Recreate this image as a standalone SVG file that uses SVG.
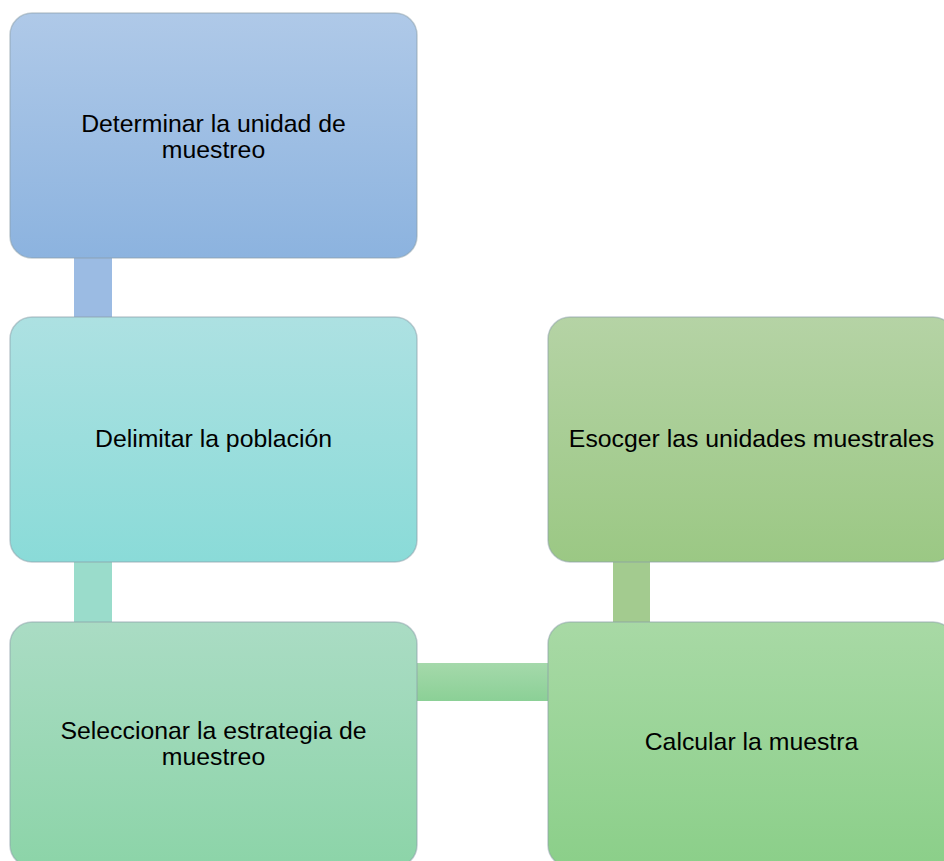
<svg xmlns="http://www.w3.org/2000/svg" width="944" height="861" viewBox="0 0 944 861">
<defs>
<linearGradient id="g1" x1="0" y1="0" x2="0" y2="1"><stop offset="0" stop-color="#afc9e8"/><stop offset="1" stop-color="#8cb3df"/></linearGradient>
<linearGradient id="g2" x1="0" y1="0" x2="0" y2="1"><stop offset="0" stop-color="#ade1e2"/><stop offset="1" stop-color="#8adbd8"/></linearGradient>
<linearGradient id="g3" x1="0" y1="0" x2="0" y2="1"><stop offset="0" stop-color="#aadcc4"/><stop offset="1" stop-color="#8cd4a8"/></linearGradient>
<linearGradient id="g4" x1="0" y1="0" x2="0" y2="1"><stop offset="0" stop-color="#b5d3a5"/><stop offset="1" stop-color="#9bc884"/></linearGradient>
<linearGradient id="g5" x1="0" y1="0" x2="0" y2="1"><stop offset="0" stop-color="#a8d9a5"/><stop offset="1" stop-color="#8bcf89"/></linearGradient>
<linearGradient id="gc4" x1="0" y1="0" x2="0" y2="1"><stop offset="0" stop-color="#a5d9ab"/><stop offset="1" stop-color="#8bd096"/></linearGradient>
</defs>
<style>
.box{stroke:#8a9ea8;stroke-opacity:0.5;stroke-width:1.5}
.t{font-family:"Liberation Sans",Arial,sans-serif;font-size:24.8px;fill:#000;text-anchor:middle}
</style>
<g id="connectors">
<rect x="74" y="256" width="38" height="63" fill="#9bbbe3"/>
<rect x="74" y="560" width="38" height="64" fill="#9adccb"/>
<rect x="613" y="560" width="37" height="64" fill="#a3cb8f"/>
<rect x="414" y="663" width="136" height="38" fill="url(#gc4)"/>
</g>
<g id="n1">
<rect class="box" x="10" y="13" width="407" height="245" rx="22" fill="url(#g1)"/>
<text class="t" x="213.5" y="132">Determinar la unidad de</text>
<text class="t" x="213.5" y="158">muestreo</text>
</g>
<g id="n2">
<rect class="box" x="10" y="317" width="407" height="245" rx="22" fill="url(#g2)"/>
<text class="t" x="213.5" y="447">Delimitar la población</text>
</g>
<g id="n3">
<rect class="box" x="10" y="622" width="407" height="245" rx="22" fill="url(#g3)"/>
<text class="t" x="213.5" y="739">Seleccionar la estrategia de</text>
<text class="t" x="213.5" y="765">muestreo</text>
</g>
<g id="n4">
<rect class="box" x="548" y="317" width="407" height="245" rx="22" fill="url(#g4)"/>
<text class="t" x="751.5" y="447">Esocger las unidades muestrales</text>
</g>
<g id="n5">
<rect class="box" x="548" y="622" width="407" height="245" rx="22" fill="url(#g5)"/>
<text class="t" x="751.5" y="750">Calcular la muestra</text>
</g>
</svg>
